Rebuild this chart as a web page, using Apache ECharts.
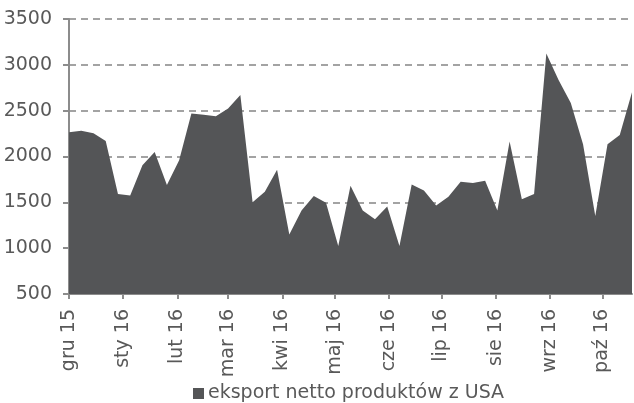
<!DOCTYPE html>
<html>
<head>
<meta charset="utf-8">
<script src="https://cdn.jsdelivr.net/npm/echarts@6/dist/echarts.min.js"></script>
<style>
  html, body { margin: 0; padding: 0; background: #fff; }
  #wykres { width: 634px; height: 403px; }
</style>
</head>
<body>
<div id="wykres"></div>
<script>
// tygodnie (daty notowań)
const tygodnie = [
  '2015-12-01', '2015-12-08', '2015-12-15', '2015-12-22', '2015-12-29',
  '2016-01-05', '2016-01-12', '2016-01-19', '2016-01-26',
  '2016-02-02', '2016-02-09', '2016-02-16', '2016-02-23',
  '2016-03-01', '2016-03-08', '2016-03-15', '2016-03-22', '2016-03-29',
  '2016-04-05', '2016-04-12', '2016-04-19', '2016-04-26',
  '2016-05-03', '2016-05-10', '2016-05-17', '2016-05-24', '2016-05-31',
  '2016-06-07', '2016-06-14', '2016-06-21', '2016-06-28',
  '2016-07-05', '2016-07-12', '2016-07-19', '2016-07-26',
  '2016-08-02', '2016-08-09', '2016-08-16', '2016-08-23', '2016-08-30',
  '2016-09-06', '2016-09-13', '2016-09-20', '2016-09-27',
  '2016-10-04', '2016-10-11', '2016-10-18'
];

// eksport netto produktów z USA (tys. baryłek dziennie)
const eksportNetto = [
  2265, 2280, 2255, 2170, 1590,
  1575, 1905, 2050, 1690,
  1960, 2470, 2455, 2440,
  2525, 2670, 1500, 1615, 1855,
  1150, 1410, 1570, 1495,
  1025, 1680, 1410, 1315, 1455,
  1025, 1695, 1630, 1465,
  1560, 1725, 1710, 1735,
  1410, 2165, 1535, 1590, 3125,
  2835, 2585, 2135, 1350,
  2135, 2235, 2700
];

const miesiace = ['sty', 'lut', 'mar', 'kwi', 'maj', 'cze', 'lip', 'sie', 'wrz', 'paź', 'lis', 'gru'];
const nazwaSerii = 'eksport netto produktów z USA';

const punkty = tygodnie.map((d, i) => [d, eksportNetto[i]]);

const myChart = echarts.init(document.getElementById('wykres'));

const option = {
  backgroundColor: '#ffffff',
  animation: false,
  textStyle: { fontFamily: 'DejaVu Sans' },
  grid: { left: 69, right: 2, top: 19, bottom: 109 },
  legend: {
    left: 193,
    top: 384,
    padding: 0,
    itemWidth: 11,
    itemHeight: 11,
    icon: 'rect',
    textStyle: { color: '#595959', fontSize: 19, fontFamily: 'DejaVu Sans', padding: [0, 0, 0, -1] },
    data: [nazwaSerii]
  },
  xAxis: {
    type: 'time',
    min: tygodnie[0],
    max: tygodnie[tygodnie.length - 1],
    minInterval: 28 * 86400000,
    maxInterval: 31 * 86400000,
    splitLine: { show: false },
    axisLine: { lineStyle: { color: '#8c8c8c', width: 2 } },
    axisTick: { show: true, length: 5, lineStyle: { color: '#8c8c8c', width: 2 } },
    axisLabel: {
      rotate: 90,
      margin: 15,
      color: '#595959',
      fontSize: 19,
      fontFamily: 'DejaVu Sans',
      showMaxLabel: false,
      formatter: (value) => {
        const d = new Date(value);
        const rok = String(d.getFullYear()).slice(2);
        return miesiace[d.getMonth()] + ' ' + rok;
      }
    }
  },
  yAxis: {
    type: 'value',
    min: 500,
    max: 3500,
    interval: 500,
    axisLine: { show: true, lineStyle: { color: '#8c8c8c', width: 2 } },
    axisTick: { show: true, length: 6, lineStyle: { color: '#8c8c8c', width: 2 } },
    axisLabel: {
      color: '#595959',
      fontSize: 19,
      margin: 17,
      fontFamily: 'DejaVu Sans',
      formatter: (v) => String(v)
    },
    splitLine: { lineStyle: { color: '#a3a3a3', width: 2, type: [7, 5] } }
  },
  series: [
    {
      name: nazwaSerii,
      type: 'line',
      data: punkty,
      symbol: 'none',
      lineStyle: { width: 0, color: '#545557' },
      itemStyle: { color: '#545557' },
      areaStyle: { color: '#545557', opacity: 1 }
    }
  ]
};

myChart.setOption(option);
</script>
</body>
</html>
